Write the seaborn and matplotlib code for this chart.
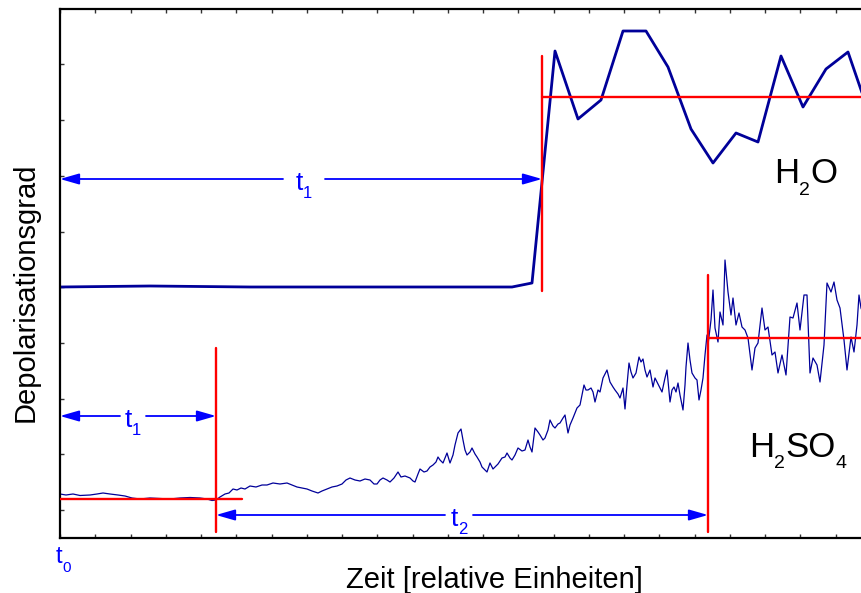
import numpy as np
import pandas as pd
import seaborn as sns
import matplotlib
matplotlib.use("Agg")
import matplotlib.pyplot as plt
from matplotlib.ticker import MultipleLocator, FixedLocator
from matplotlib.transforms import offset_copy

# ---------------------------------------------------------------
# Depolarisation traces (relative units: time 0..811, signal 0..529)
# ---------------------------------------------------------------
h2o_time = [0, 90, 190, 340, 452, 472, 495, 518, 541, 563, 586, 608, 631,
            653, 676, 698, 721, 743, 766, 788, 811]
h2o_signal = [251, 252, 251, 251, 251, 255, 487, 419, 438, 507, 507, 471, 409,
              375, 405, 396, 482, 431, 469, 486, 419]

h2so4_time = [
    0, 6, 13, 20, 30, 37, 43, 50, 58, 65, 72, 80, 90, 100, 110, 120, 130, 140,
    147, 152, 156,
    160, 165, 169, 173, 177, 181, 185, 190, 196, 202, 207, 213, 220, 227, 232,
    237, 242, 247, 252, 258, 262, 267, 272, 277, 282, 286, 290, 295, 300, 305,
    310, 314, 317, 320, 323, 327, 330, 334, 338, 341, 345, 350, 353, 355, 358,
    360, 364, 367, 370, 373, 376, 378,
    380, 383, 387, 390, 393, 395, 398, 401, 403, 405, 407, 410, 412, 415, 417,
    420, 422, 425, 427, 430, 433, 435, 438, 442, 445, 447, 450, 452, 455, 458,
    462, 465, 468, 470, 472, 475, 478, 480, 483, 485, 488, 490, 493, 495, 498,
    500, 503, 505, 508, 510, 513, 517, 520, 522, 524, 526, 528, 531, 533, 535,
    538, 540,
    543, 545, 547, 550, 553, 555, 558, 560, 563, 565, 567, 569, 571, 573, 576,
    579, 581, 583, 585, 587, 590, 593, 595, 597, 600, 602, 605, 607, 610, 612,
    614, 616, 618, 620, 623, 625, 626, 628, 630, 632, 635, 637, 639, 641, 643,
    645,
    647, 648, 651, 653, 655, 658, 660, 663, 665, 668, 671, 673, 676, 679, 682,
    685, 688, 692, 695, 698, 702, 705, 708, 712, 715, 718, 722, 726, 730, 733,
    737, 740, 744, 747, 750, 753, 757, 760, 764, 767, 771, 774, 777, 780, 784,
    787, 791, 794, 797, 799, 801, 806]
h2so4_signal = [
    44, 43, 44, 42.5, 43, 44, 45, 44, 43, 42, 40, 39, 40, 39.5, 39, 40, 40.5, 40,
    39, 37.5, 38,
    41, 44, 45, 49, 48, 50, 49, 52, 51, 53, 53, 55, 54, 55, 53,
    51, 50, 49, 47, 45, 47, 49, 51, 52, 54, 58, 60, 58, 57, 59,
    58, 54, 54, 58, 60, 58, 56, 60, 66, 61, 62, 60, 57, 56, 64,
    69, 66, 67, 71, 73, 76, 81,
    78, 75, 85, 75, 83, 93, 105, 109, 98, 88, 83, 86, 90, 84, 81,
    76, 71, 68, 66, 75, 69, 71, 74, 80, 81, 85, 80, 78, 83, 90,
    87, 88, 98, 91, 86, 110, 106, 103, 98, 100, 108, 118, 112, 110, 114,
    115, 120, 123, 105, 113, 120, 130, 133, 143, 153, 148, 148, 150, 146, 136,
    148, 146,
    160, 164, 168, 156, 151, 148, 144, 140, 150, 129, 153, 175, 166, 160, 165,
    181, 176, 179, 168, 161, 168, 151, 160, 156, 150, 146, 160, 168, 136, 148,
    151, 146, 155, 143, 128, 153, 171, 195, 178, 165, 160, 158, 138, 148, 160,
    183,
    203, 193, 218, 248, 210, 196, 226, 213, 278, 246, 223, 240, 213, 225, 211,
    208, 200, 168, 190, 195, 230, 208, 211, 183, 186, 165, 183, 163, 221, 220,
    235, 208, 243, 243, 165, 180, 173, 156, 193, 255, 246, 256, 238, 230, 198,
    168, 201, 186, 213, 243, 230, 218]

# Onset times and plateau levels
h2o_onset, h2o_base, h2o_plateau = 482, 251, 441
h2so4_onset1, h2so4_onset2 = 156, 648
h2so4_base, h2so4_plateau = 39, 200

# Arrow rows: (start, end, level, gap_left, gap_right, subscript)
arrows = [
    (0, h2o_onset, 359, 223, 265, "1"),
    (0, h2so4_onset1, 122, 60, 86, "1"),
    (h2so4_onset1, h2so4_onset2, 23, 385, 413, "2"),
]

NAVY = "#000099"
RED = "#FF0000"
BLUE = "#0000FF"

sns.set_style("white")
plt.rcParams["font.family"] = ["Liberation Sans", "DejaVu Sans"]
plt.rcParams["text.color"] = "black"
plt.rcParams["axes.labelcolor"] = "black"

W, H = 861, 593
fig = plt.figure(figsize=(W / 100, H / 100), dpi=100)
ax = fig.add_axes([60 / W, 55 / H, 811 / W, 529 / H])
ax.set_xlim(0, 811)
ax.set_ylim(0, 529)
renderer = fig.canvas.get_renderer()


def chem_text(x, y, parts, size, sub_size, drop, color="black", center=False):
    """Write text with lowered subscripts; parts = [(string, is_subscript)]."""
    widths = []
    for s, sub in parts:
        t = ax.text(0, 0, s, fontsize=sub_size if sub else size)
        widths.append(t.get_window_extent(renderer).width)
        t.remove()
    dx = -sum(widths) / 2 if center else 0.0
    for (s, sub), w in zip(parts, widths):
        tr = offset_copy(ax.transData, fig=fig, x=dx, y=-drop if sub else 0,
                         units="dots")
        ax.text(x, y, s, transform=tr, fontsize=sub_size if sub else size,
                color=color, ha="left", va="baseline", clip_on=False)
        dx += w


# Traces
sns.lineplot(x=h2o_time, y=h2o_signal, ax=ax, color=NAVY, linewidth=2.0,
             sort=False, estimator=None)
sns.lineplot(x=h2so4_time, y=h2so4_signal, ax=ax, color=NAVY, linewidth=0.9,
             sort=False, estimator=None)

# Onset markers and plateau levels
red_kw = dict(color=RED, linewidth=1.7, zorder=3)
ax.plot([h2o_onset, h2o_onset], [247, 482], **red_kw)
ax.plot([h2o_onset, 811], [h2o_plateau, h2o_plateau], **red_kw)
ax.plot([h2so4_onset1, h2so4_onset1], [6, 190], **red_kw)
ax.plot([0, 182], [h2so4_base, h2so4_base], **red_kw)
ax.plot([h2so4_onset2, h2so4_onset2], [6, 263], **red_kw)
ax.plot([h2so4_onset2, 811], [h2so4_plateau, h2so4_plateau], **red_kw)

# Time interval arrows
aprops = dict(arrowstyle="-|>,head_length=1.15,head_width=0.33",
              mutation_scale=10, color=BLUE, lw=1.3, shrinkA=0, shrinkB=0)
for x0, x1, lvl, g0, g1, sub in arrows:
    ax.annotate("", xy=(x0, lvl), xytext=(g0, lvl), arrowprops=aprops, zorder=4)
    ax.annotate("", xy=(x1, lvl), xytext=(g1, lvl), arrowprops=aprops, zorder=4)
    chem_text((g0 + g1) / 2, lvl - 11, [("t", False), (sub, True)],
              19, 12, 8, color=BLUE, center=True)

chem_text(-4, -25, [("t", False), ("0", True)], 17, 11, 9, color=BLUE)

# Substance labels
chem_text(714, 355, [("H", False), ("2", True), ("O", False)], 25, 14, 12)
chem_text(689, 81, [("H", False), ("2", True), ("SO", False), ("4", True)],
          25, 14, 11)

# Frame and ticks
for side in ["left", "top", "bottom"]:
    ax.spines[side].set_visible(True)
    ax.spines[side].set_color("black")
    ax.spines[side].set_linewidth(1.6)
ax.spines["right"].set_visible(False)
ax.xaxis.set_major_locator(MultipleLocator(35.25))
ax.yaxis.set_major_locator(FixedLocator([28 + 55.7 * k for k in range(10)]))
ax.tick_params(axis="both", which="both", direction="in", length=3, width=1,
               color="#333333", top=True, bottom=True, left=True, right=False,
               labelbottom=False, labelleft=False)
ax.set_xlabel("")
ax.set_ylabel("")

fig.text(494 / W, 1 - 588 / H, "Zeit [relative Einheiten]", fontsize=21,
         ha="center", va="baseline")
fig.text(26 / W, 1 - 292 / H, "Depolarisationsgrad", fontsize=21,
         rotation=90, ha="center", va="center")

fig.savefig("out.png", dpi=100)
